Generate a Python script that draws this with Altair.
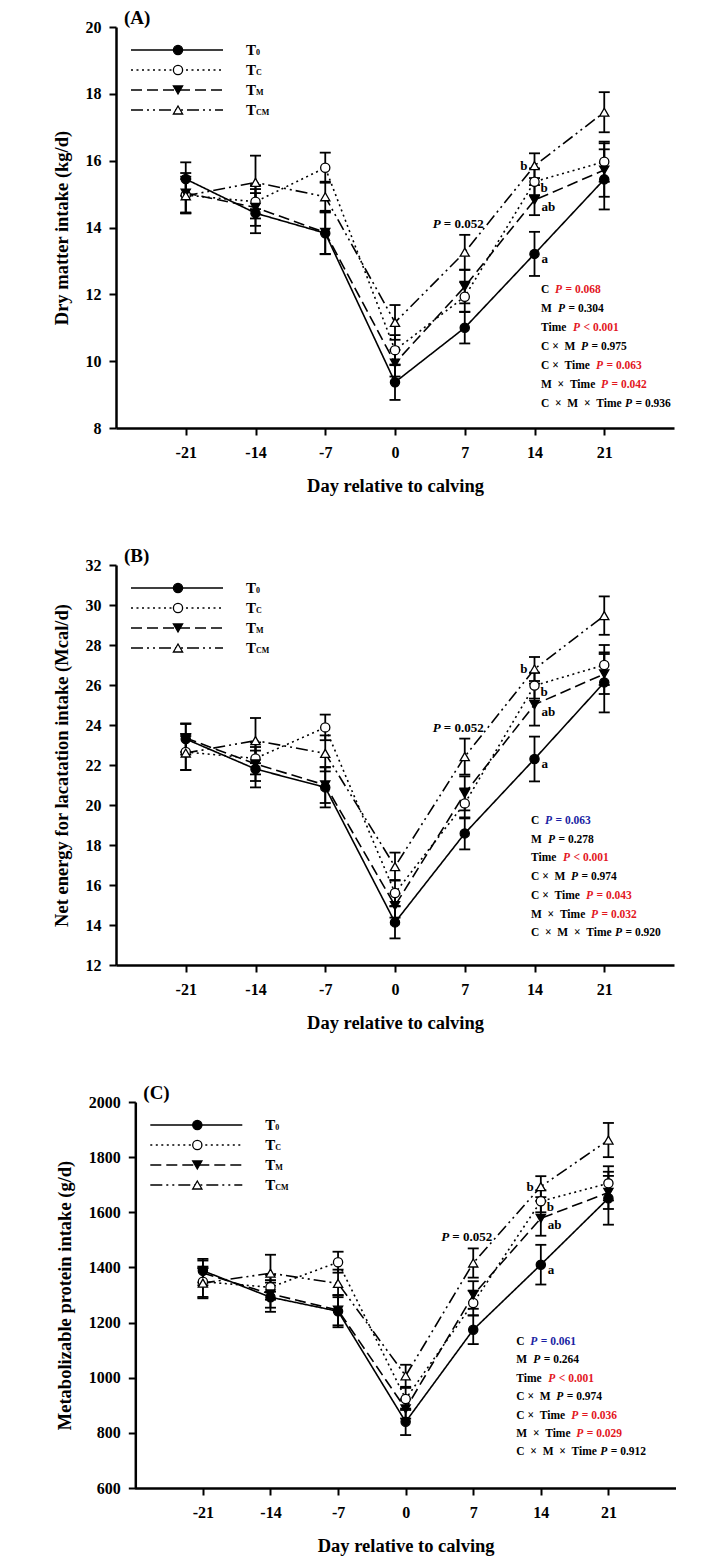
import altair as alt
import pandas as pd

# ---------------- data ----------------
days = [-21, -14, -7, 0, 7, 14, 21]
series = ["T0", "TC", "TM", "TCM"]
legend_sub = ["0", "C", "M", "CM"]
sig_letters = ["a", "b", "ab", "b"]          # day-14 letters per series
stat_terms = ["C", "M", "Time", "C × M", "C × Time", "M × Time", "C × M × Time"]
trend_text = "= 0.052"

# (A) Dry matter intake, kg/d
dmi_T0 = [15.45, 14.43, 13.83, 9.37, 11.00, 13.21, 15.44]
dmi_T0_se = [0.50, 0.60, 0.62, 0.53, 0.47, 0.66, 0.90]
dmi_TC = [14.97, 14.77, 15.79, 10.33, 11.93, 15.37, 15.97]
dmi_TC_se = [0.55, 0.50, 0.45, 0.45, 0.45, 0.40, 0.60]
dmi_TM = [15.03, 14.60, 13.85, 9.94, 12.23, 14.82, 15.72]
dmi_TM_se = [0.60, 0.55, 0.65, 0.40, 0.50, 0.45, 0.80]
dmi_TCM = [14.95, 15.35, 14.92, 11.16, 13.26, 15.85, 17.45]
dmi_TCM_se = [0.50, 0.80, 0.45, 0.52, 0.52, 0.37, 0.60]
dmi_p = ["= 0.068", "= 0.304", "< 0.001", "= 0.975", "= 0.063", "= 0.042", "= 0.936"]
dmi_pc = ["red", "black", "red", "black", "red", "red", "black"]

# (B) Net energy for lactation intake, Mcal/d
nel_T0 = [23.30, 21.80, 20.88, 14.13, 18.58, 22.30, 26.13]
nel_T0_se = [0.78, 0.92, 1.00, 0.80, 0.80, 1.12, 1.50]
nel_TC = [22.65, 22.33, 23.88, 15.60, 20.08, 25.97, 27.00]
nel_TC_se = [0.90, 0.80, 0.64, 0.65, 0.75, 0.65, 1.00]
nel_TM = [23.35, 22.05, 21.00, 14.97, 20.58, 25.02, 26.55]
nel_TM_se = [0.70, 0.85, 0.90, 0.60, 0.85, 1.05, 1.00]
nel_TCM = [22.60, 23.22, 22.58, 16.92, 22.42, 26.80, 29.47]
nel_TCM_se = [0.85, 1.13, 0.90, 0.70, 0.90, 0.60, 0.96]
nel_p = ["= 0.063", "= 0.278", "< 0.001", "= 0.974", "= 0.043", "= 0.032", "= 0.920"]
nel_pc = ["blue", "black", "red", "black", "red", "red", "black"]

# (C) Metabolizable protein intake, g/d
mp_T0 = [1388, 1292, 1241, 840, 1174, 1410, 1651]
mp_T0_se = [43, 53, 58, 48, 52, 72, 96]
mp_TC = [1348, 1328, 1419, 923, 1271, 1640, 1705]
mp_TC_se = [55, 45, 38, 40, 45, 40, 62]
mp_TM = [1380, 1304, 1245, 887, 1300, 1578, 1672]
mp_TM_se = [45, 50, 55, 35, 50, 63, 60]
mp_TCM = [1343, 1379, 1342, 1007, 1416, 1693, 1862]
mp_TCM_se = [55, 67, 50, 40, 53, 38, 62]
mp_p = ["= 0.061", "= 0.264", "< 0.001", "= 0.974", "= 0.036", "= 0.029", "= 0.912"]
mp_pc = ["blue", "black", "red", "black", "red", "red", "black"]

# ---------------- styling ----------------
FONT = "Liberation Serif"
COLORS = {"red": "#E3171E", "blue": "#1B1FA3", "black": "#000000"}
DASHES = [[1, 0], [2, 3.5], [11, 5], [12, 4, 2, 4, 2, 4]]
SHAPES = ["circle", "circle", "triangle-down", "triangle-up"]
FILLS = ["black", "white", "black", "white"]
STAT_SIZE = 11.5
P_OFF = [14, 17, 32, 40, 55, 60, 84]
NB = "\u00a0"
TERM_DISPLAY = ["C", "M", "Time",
                "C" + NB + "×" + NB * 2 + "M",
                "C" + NB + "×" + NB * 2 + "Time",
                "M" + NB * 2 + "×" + NB * 2 + "Time",
                "C" + NB * 2 + "×" + NB * 2 + "M" + NB * 2 + "×" + NB * 2 + "Time"]


def make_df(means, ses):
    rows = []
    for s, m, se in zip(series, means, ses):
        for d, mv, sv in zip(days, m, se):
            rows.append({"day": d, "series": s, "mean": mv, "lo": mv - sv, "hi": mv + sv})
    return pd.DataFrame(rows)


def tx(s, x, y, size, color="black", align="left", italic=False, weight="bold"):
    return alt.Chart(pd.DataFrame({"t": [s]})).mark_text(
        font=FONT, fontSize=size, fontWeight=weight, fontStyle="italic" if italic else "normal",
        color=color, align=align, baseline="middle"
    ).encode(x=alt.value(x), y=alt.value(y), text="t:N")


def panel(df, tag, ydom, yvals, ytitle, w, h, pvals, pcols, sx, sy, sdy,
          xshift=0.0, xlo=-28):
    # xshift: pixels between the plot's left edge and the y axis (day -28)
    manual_domain = xshift > 0
    xax = alt.Axis(values=days, labelExpr="'' + datum.value",
                   title="Day relative to calving", labelPadding=9,
                   titlePadding=16, labelFlush=False, domain=not manual_domain,
                   **({"titleX": xshift + (w - xshift) / 2} if manual_domain else {}))
    xsc = alt.Scale(domain=[xlo, 28], nice=False, zero=False)
    X = alt.X("day:Q", scale=xsc, axis=xax)
    ysc = alt.Scale(domain=ydom, nice=False, zero=False)
    yax = alt.Axis(values=yvals, format="d", title=ytitle, labelPadding=8,
                   titlePadding=14, labelFlush=False, offset=-xshift)
    Ym = alt.Y("mean:Q", scale=ysc, axis=yax)
    Ylo = alt.Y("lo:Q", scale=ysc, axis=yax)
    Yhi = alt.Y("hi:Q", scale=ysc, axis=yax)
    base = alt.Chart(df)

    layers = []
    layers.append(base.mark_rule(color="black", strokeWidth=1.8).encode(x=X, y=Ylo, y2="hi:Q"))
    layers.append(base.mark_tick(orient="horizontal", color="black", size=11, thickness=1.8,
                                 opacity=1).encode(x=X, y=Ylo))
    layers.append(base.mark_tick(orient="horizontal", color="black", size=11, thickness=1.8,
                                 opacity=1).encode(x=X, y=Yhi))
    layers.append(base.mark_line(color="black", strokeWidth=1.6).encode(
        x=X, y=Ym,
        strokeDash=alt.StrokeDash("series:N", scale=alt.Scale(domain=series, range=DASHES), legend=None),
        detail="series:N"))
    layers.append(base.mark_point(filled=True, stroke="black", strokeWidth=1.3, size=85,
                                  opacity=1).encode(
        x=X, y=Ym,
        shape=alt.Shape("series:N", scale=alt.Scale(domain=series, range=SHAPES), legend=None),
        fill=alt.Fill("series:N", scale=alt.Scale(domain=series, range=FILLS), legend=None)))

    if manual_domain:
        # x axis line starting at the (inset) y axis
        layers.append(alt.Chart(pd.DataFrame({"k": [0]})).mark_rule(
            color="black", strokeWidth=2.5).encode(
            x=alt.X(datum=-28, scale=xsc, axis=xax), x2=alt.X2(datum=28), y=alt.value(h + 0.5)))

    # significance letters at day 14
    offs = {"T0": (7, 5, "left"), "TC": (6, 6, "left"), "TM": (7, 7, "left"), "TCM": (-7, 0, "right")}
    for s, let in zip(series, sig_letters):
        dx, dy, al = offs[s]
        layers.append(base.transform_filter((alt.datum.series == s) & (alt.datum.day == 14))
                      .mark_text(text=let, font=FONT, fontSize=13, fontWeight="bold", color="black",
                                 align=al, baseline="middle", dx=dx, dy=dy)
                      .encode(x=X, y=Ym))
    # trend P at day 7
    trend = base.transform_filter((alt.datum.series == "TCM") & (alt.datum.day == 7))
    layers.append(trend.mark_text(text="P", font=FONT, fontSize=13, fontWeight="bold",
                                  fontStyle="italic", align="left", baseline="middle",
                                  dx=-32, dy=-11).encode(x=X, y=Yhi))
    layers.append(trend.mark_text(text=trend_text, font=FONT, fontSize=13, fontWeight="bold",
                                  align="left", baseline="middle", dx=-21, dy=-11).encode(x=X, y=Yhi))

    # legend
    for i, s in enumerate(series):
        yy = 23 + 20 * i
        layers.append(alt.Chart(pd.DataFrame({"k": [0]})).mark_rule(
            color="black", strokeWidth=1.6, strokeDash=DASHES[i]).encode(
            x=alt.value(xshift + 15), x2=alt.value(xshift + 107), y=alt.value(yy)))
        layers.append(alt.Chart(pd.DataFrame({"k": [0]})).mark_point(
            shape=SHAPES[i], filled=True, fill=FILLS[i], stroke="black", strokeWidth=1.3,
            size=85, opacity=1).encode(x=alt.value(xshift + 62), y=alt.value(yy)))
        layers.append(tx("T", xshift + 130, yy, 15))
        layers.append(tx(legend_sub[i], xshift + 140, yy + 3, 8))

    # statistics
    for i, (term, p, c) in enumerate(zip(TERM_DISPLAY, pvals, pcols)):
        yy = sy + i * sdy
        col = COLORS[c]
        layers.append(tx(term, xshift + sx, yy, STAT_SIZE))
        layers.append(tx("P", xshift + sx + P_OFF[i], yy, STAT_SIZE, col, italic=True))
        layers.append(tx(p, xshift + sx + P_OFF[i] + 10.5, yy, STAT_SIZE, col))

    layers.append(tx(tag, xshift + 8, -9, 19))
    return alt.layer(*layers).properties(width=w, height=h)


dfA = make_df([dmi_T0, dmi_TC, dmi_TM, dmi_TCM], [dmi_T0_se, dmi_TC_se, dmi_TM_se, dmi_TCM_se])
dfB = make_df([nel_T0, nel_TC, nel_TM, nel_TCM], [nel_T0_se, nel_TC_se, nel_TM_se, nel_TCM_se])
dfC = make_df([mp_T0, mp_TC, mp_TM, mp_TCM], [mp_T0_se, mp_TC_se, mp_TM_se, mp_TCM_se])

pA = panel(dfA, "(A)", [8, 20], list(range(8, 21, 2)), "Dry matter intake (kg/d)",
           558, 401, dmi_p, dmi_pc, 425, 263, 19)
pB = panel(dfB, "(B)", [12, 32], list(range(12, 33, 2)), "Net energy for lacatation intake (Mcal/d)",
           558, 400, nel_p, nel_pc, 415, 256, 18.7)
# panel C: its y axis sits 19 px to the right of panels A/B
C_SHIFT = 19.3
pC = panel(dfC, "(C)", [600, 2000], list(range(600, 2001, 200)), "Metabolizable protein intake (g/d)",
           560, 386, mp_p, mp_pc, 381, 240, 18.4,
           xshift=C_SHIFT, xlo=-28 - C_SHIFT / (541 / 56))

chart = alt.vconcat(pA, pB, pC, spacing=52).properties(
    padding={"left": 44, "top": 1, "right": 5, "bottom": 5}
).configure_view(stroke=None).configure_axis(
    domainColor="black", domainWidth=2.5, tickColor="black", tickWidth=2, tickSize=7,
    labelFont=FONT, labelFontSize=16, labelFontWeight="bold", labelColor="black",
    titleFont=FONT, titleFontSize=18.5, titleFontWeight="bold", titleColor="black", grid=False
)

chart.save("out.html", embed_options={"renderer": "svg", "actions": False})
